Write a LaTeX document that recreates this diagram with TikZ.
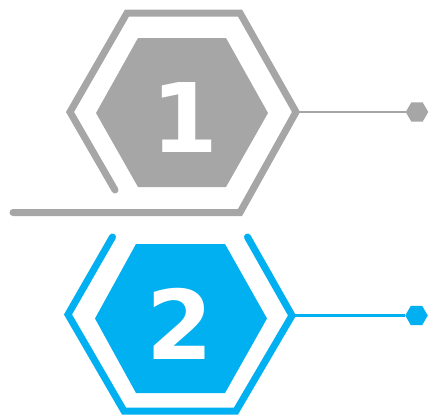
\documentclass[tikz,border=0pt]{standalone}
\usepackage{fontspec}
\setmainfont{DejaVu Sans}
\usetikzlibrary{shapes.geometric}
\definecolor{stepgray}{HTML}{A6A6A6}
\definecolor{stepblue}{HTML}{00B0F0}
\begin{document}
\begin{tikzpicture}[x=1pt,y=-1pt,
  frame/.style={line width=7pt, line cap=round, line join=miter},
  badge/.style={draw=none},
  digit/.style={text=white, inner sep=0pt, font=\bfseries\fontsize{96}{96}\selectfont},
  stem/.style={line width=2.4pt},
  dot/.style={regular polygon, regular polygon sides=6, minimum size=22.5pt, inner sep=0pt, draw=none}]
\useasboundingbox (0,0) rectangle (429,418);

% --- step 1 (grey) ---
\draw[frame, stepgray] (115,190) -- (70,112) -- (127,13) -- (240,13)
  -- (296,112) -- (240,212.5) -- (13,212.5);
\fill[badge, stepgray] (138,38) -- (226,38) -- (268,113) -- (226,187)
  -- (138,187) -- (96,113) -- cycle;
\node[digit] (n1) at (185,118) {1};
\coordinate (g-tip) at (296,112);
\node[dot, fill=stepgray] (g-dot) at (417,112) {};
\draw[stem, stepgray] (g-tip) -- (g-dot);

% --- step 2 (blue) ---
\draw[frame, stepblue] (112.5,237) -- (68,314.5) -- (124,411) -- (236,411)
  -- (292,315.5) -- (247.5,237);
\fill[badge, stepblue] (136,244) -- (225,244) -- (267,318.5) -- (225,393)
  -- (136,393) -- (95,318.5) -- cycle;
\node[digit] (n2) at (180,323.5) {2};
\coordinate (b-tip) at (292,315.5);
\node[dot, fill=stepblue] (b-dot) at (416.5,315.5) {};
\draw[stem, stepblue] (b-tip) -- (b-dot);
\end{tikzpicture}
\end{document}
